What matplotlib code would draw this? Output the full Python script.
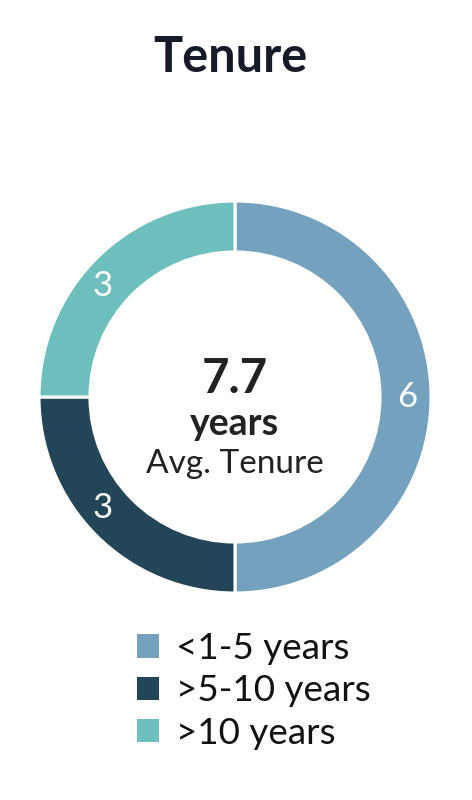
import matplotlib
matplotlib.use("Agg")
import matplotlib.pyplot as plt
import numpy as np
from matplotlib.patches import Patch

plt.rcParams["font.family"] = ["Lato", "DejaVu Sans"]

# data
categories = ["<1-5 years", ">5-10 years", ">10 years"]
counts = [6, 3, 3]
colors = ["#74A1BD", "#234558", "#6DBFBD"]
avg_tenure = "7.7"

W, H = 472, 800
fig = plt.figure(figsize=(W / 100, H / 100), dpi=100)

# title
fig.text(230 / W, 1 - 57 / H, "Tenure", ha="center", va="center",
         fontsize=35, fontweight="bold", color="#141a26")

# donut: center (235, 397) px, outer radius 196 px
cx, cy, r = 235, 397, 196
ax = fig.add_axes([(cx - r) / W, (H - cy - r) / H, 2 * r / W, 2 * r / H])
ax.pie(counts, colors=colors, startangle=90, counterclock=False, radius=1,
       wedgeprops=dict(width=0.26, edgecolor="white", linewidth=2.2))
ax.set_xlim(-1, 1)
ax.set_ylim(-1, 1)
ax.set_aspect("equal")
ax.axis("off")

# value labels on the ring, nudged a little toward the horizontal
total = sum(counts)
start = 90
for v in counts:
    mid = start - 360 * v / total / 2
    if 90 < mid % 360 < 270:
        mid += 5 if mid % 360 < 180 else -5
    rad = np.deg2rad(mid)
    ax.text(0.88 * np.cos(rad), 0.88 * np.sin(rad), str(v), ha="center", va="center",
            color="white", fontsize=25)
    start -= 360 * v / total

# center text
ax.text(0, 0.09, avg_tenure, ha="center", va="center", fontsize=34,
        fontweight="bold", color="#222222")
ax.text(0, -0.14, "years", ha="center", va="center", fontsize=27,
        fontweight="bold", color="#222222")
ax.text(0, -0.34, "Avg. Tenure", ha="center", va="center", fontsize=24,
        color="#222222")

# legend
handles = [Patch(facecolor=c, edgecolor="none") for c in colors]
fig.legend(handles, categories, loc="upper left",
           bbox_to_anchor=(104 / W, 1 - 599 / H), frameon=False,
           fontsize=26.5, handlelength=0.6, handleheight=0.6,
           handletextpad=0.46, labelspacing=0.25, labelcolor="#111111")

fig.savefig("out.png", dpi=100)
